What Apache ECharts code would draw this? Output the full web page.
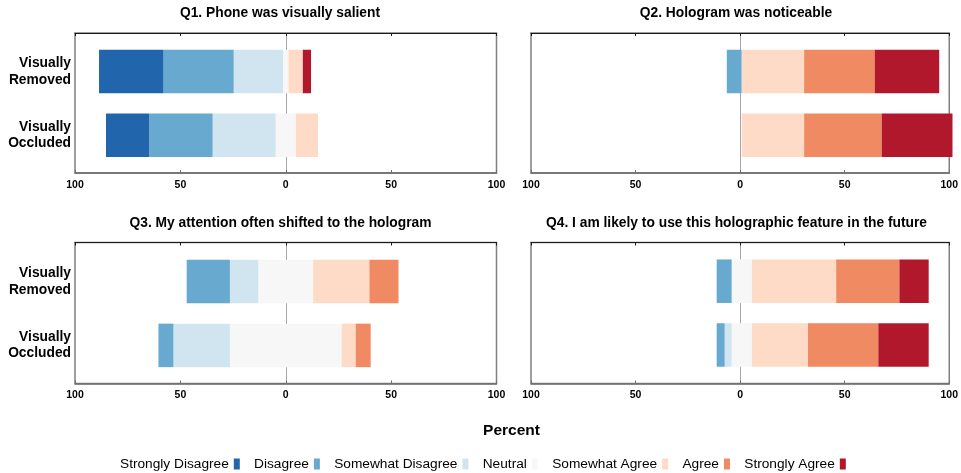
<!DOCTYPE html>
<html>
<head>
<meta charset="utf-8">
<script src="https://cdn.jsdelivr.net/npm/echarts@6/dist/echarts.min.js"></script>
<style>
html,body{margin:0;padding:0;background:#fff;}
#chart{width:961px;height:473px;}
</style>
</head>
<body>
<div id="chart"></div>
<script>
// ---- data ----
const levels = ['Strongly Disagree', 'Disagree', 'Somewhat Disagree', 'Neutral', 'Somewhat Agree', 'Agree', 'Strongly Agree'];
const groups = ['Visually Removed', 'Visually Occluded'];
const questionTitles = [
  'Q1. Phone was visually salient',
  'Q2. Hologram was noticeable',
  'Q3. My attention often shifted to the hologram',
  'Q4. I am likely to use this holographic feature in the future'
];
const xTicks = [-100, -50, 0, 50, 100];
// percent per level (SD, D, SwD, N, SwA, A, SA)
const q1Removed  = [30.6, 33.3, 23.4, 2.6, 6.8, 0, 3.9];
const q1Occluded = [20.5, 30.1, 29.9, 9.6, 10.5, 0, 0];
const q2Removed  = [0, 7.1, 0, 0, 29.6, 33.5, 30.6];
const q2Occluded = [0, 0, 0, 0, 29.6, 36.8, 33.6];
const q3Removed  = [0, 20.5, 13.5, 26.0, 26.7, 13.8, 0];
const q3Occluded = [0, 7.1, 26.8, 53.0, 6.7, 7.1, 0];
const q4Removed  = [0, 7.1, 0, 9.6, 40.0, 30.0, 13.9];
const q4Occluded = [0, 3.8, 3.3, 9.6, 26.6, 33.4, 23.9];

const levelColors = ['#2166AC', '#67A9CF', '#D1E5F0', '#F7F7F7', '#FDDBC7', '#EF8A62', '#B2182B'];
const panelData = [
  [q1Removed, q1Occluded],
  [q2Removed, q2Occluded],
  [q3Removed, q3Occluded],
  [q4Removed, q4Occluded]
];

// ---- layout ----
const FONT = 'Liberation Sans, Arial, Helvetica, sans-serif';
const panels = [
  {outer: {left: 75, top: 33, width: 421.5, height: 140}, inner: {top: 39.6, height: 127.6}, labels: true, titleX: 280, titleTop: 6},
  {outer: {left: 531, top: 33, width: 421.5, height: 140}, inner: {top: 39.6, height: 127.6}, labels: false, titleX: 736, titleTop: 6},
  {outer: {left: 75, top: 242.5, width: 421.5, height: 141}, inner: {top: 249.7, height: 127.6}, labels: true, titleX: 280.5, titleTop: 216},
  {outer: {left: 531, top: 242.5, width: 421.5, height: 141}, inner: {top: 249.3, height: 127.6}, labels: false, titleX: 736.5, titleTop: 216}
];

const grids = [], xAxes = [], yAxes = [], series = [], titles = [];

panels.forEach((p, pi) => {
  const og = grids.length;
  grids.push(Object.assign({show: true, borderColor: '#808080', borderWidth: 1.5, backgroundColor: 'transparent'}, p.outer));
  const ig = grids.length;
  grids.push({left: p.outer.left, width: p.outer.width, top: p.inner.top, height: p.inner.height});

  // outer bottom axis (labels)
  xAxes.push({
    gridIndex: og, type: 'value', position: 'bottom', min: xTicks[0], max: xTicks[xTicks.length - 1], interval: 50,
    axisLine: {show: true, onZero: false, lineStyle: {color: '#6e6e6e', width: 1.5}},
    axisTick: {show: true, inside: true, length: 3, lineStyle: {color: '#6e6e6e'}},
    axisLabel: {show: true, margin: 6.5, color: '#000', fontSize: 10.5, fontWeight: 'bold', fontFamily: FONT,
      showMinLabel: true, showMaxLabel: true, formatter: v => String(Math.abs(v))},
    splitLine: {show: false}
  });
  // outer top axis
  xAxes.push({
    gridIndex: og, type: 'value', position: 'top', min: xTicks[0], max: xTicks[xTicks.length - 1], interval: 50,
    axisLine: {show: true, onZero: false, lineStyle: {color: '#1a1a1a', width: 1}},
    axisTick: {show: true, inside: true, length: 3, lineStyle: {color: '#1a1a1a'}},
    axisLabel: {show: false}, splitLine: {show: false}
  });
  const ix = xAxes.length;
  xAxes.push({
    gridIndex: ig, type: 'value', min: -100, max: 100, interval: 50, show: false,
    axisLine: {onZero: false}, splitLine: {show: false}
  });
  // outer y axis used as zero line
  yAxes.push({
    gridIndex: og, type: 'value', min: 0, max: 1,
    axisLine: {show: true, onZero: true, lineStyle: {color: '#a6a6a6', width: 1}},
    axisTick: {show: false}, axisLabel: {show: false}, splitLine: {show: false}
  });
  const iy = yAxes.length;
  yAxes.push({
    gridIndex: ig, type: 'category', data: groups, inverse: true,
    axisLine: {show: false}, axisTick: {show: false}, splitLine: {show: false},
    axisLabel: {show: p.labels, margin: 4, color: '#000', fontSize: 13.8, fontWeight: 'bold', fontFamily: FONT,
      lineHeight: 16.5, align: 'right', formatter: v => v.replace(' ', '\n')}
  });

  const rows = panelData[pi];
  const stack = 'p' + pi;
  const mk = (li, sign, half) => ({
    type: 'bar', name: levels[li], stack: stack, xAxisIndex: ix, yAxisIndex: iy,
    barWidth: 43.5, silent: true, animation: false,
    itemStyle: {color: levelColors[li]},
    data: rows.map(r => sign * (half ? r[li] / 2 : r[li]))
  });
  // negative side, from zero outward
  series.push(mk(3, -1, true));
  series.push(mk(2, -1, false));
  series.push(mk(1, -1, false));
  series.push(mk(0, -1, false));
  // positive side, from zero outward
  series.push(mk(3, 1, true));
  series.push(mk(4, 1, false));
  series.push(mk(5, 1, false));
  series.push(mk(6, 1, false));

  titles.push({
    text: questionTitles[pi], left: p.titleX, top: p.titleTop, textAlign: 'center', padding: 0,
    textStyle: {fontSize: 13.8, fontWeight: 'bold', color: '#000', fontFamily: FONT}
  });
});

titles.push({
  text: 'Percent', left: 511.5, top: 423, textAlign: 'center', padding: 0,
  textStyle: {fontSize: 15.5, fontWeight: 'bold', color: '#000', fontFamily: FONT}
});

const chart = echarts.init(document.getElementById('chart'), null, {renderer: 'canvas'});
chart.setOption({
  animation: false,
  backgroundColor: '#fff',
  textStyle: {fontFamily: FONT},
  title: titles,
  grid: grids,
  xAxis: xAxes,
  yAxis: yAxes,
  legend: {
    data: levels, left: 120, top: 457, align: 'right', icon: 'rect',
    itemWidth: 6, itemHeight: 11, itemGap: 14.3, padding: 0, selectedMode: false,
    textStyle: {fontSize: 13.7, color: '#000', fontFamily: FONT}
  },
  series: series
});
</script>
</body>
</html>
